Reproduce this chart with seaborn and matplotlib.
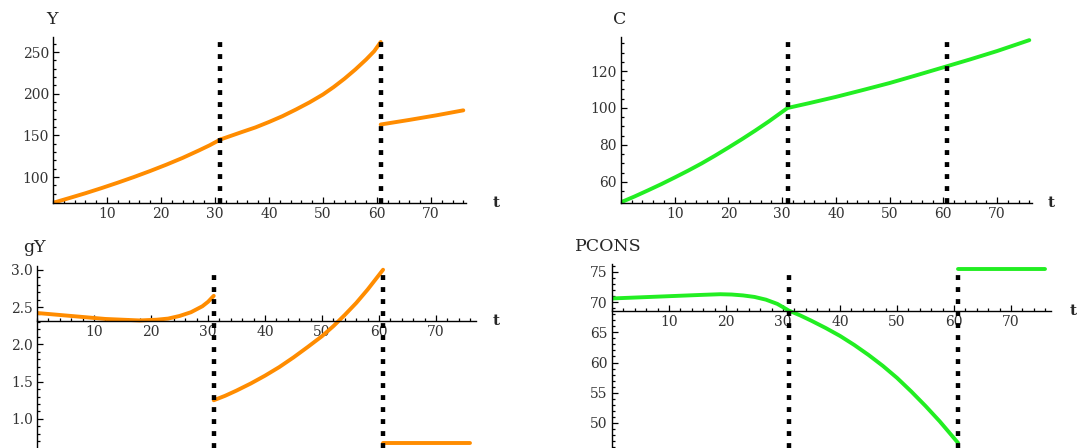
import matplotlib
matplotlib.use("Agg")
import matplotlib.pyplot as plt
import seaborn as sns
import pandas as pd
from matplotlib.ticker import MultipleLocator, FixedLocator, FormatStrFormatter

# regime switches (dotted vertical lines)
breaks = [31, 60.7]

# output Y
y_t = [0, 3, 6, 9, 12, 15, 18, 21, 24, 27, 29, 31,
       31, 33, 35, 37.5, 40, 42.5, 45, 47.5, 50, 52, 54, 56, 58, 59.5, 60.7,
       60.7, 66, 71, 76]
y_v = [69, 74.7, 80.5, 86.7, 93.2, 100, 107.2, 114.8, 122.9, 131.8, 138, 145,
       145, 149.5, 154, 159.5, 166, 173, 181, 189.5, 199, 208, 218, 229, 241, 251, 262,
       163, 168.5, 174, 180]
y_seg = [0] * 12 + [1] * 15 + [2] * 4

# consumption C
c_t = [0, 2.5, 5, 7.5, 10, 12.5, 15, 17.5, 20, 22.5, 25, 27.5, 31,
       35, 40, 45, 50, 55, 60.7, 65, 70, 76]
c_v = [49, 52.1, 55.4, 58.8, 62.4, 66.1, 70, 74.2, 78.6, 83.1, 87.8, 92.7, 100,
       102.6, 106, 109.7, 113.5, 117.7, 122.6, 126.3, 130.8, 136.7]
c_seg = [0] * 22

# growth rate gY
g_t = [0, 3, 6, 9, 12, 15, 18, 21, 23, 25, 27, 29, 30, 31,
       31, 33, 35, 37.5, 40, 42.5, 45, 47.5, 50, 52, 54, 56, 58, 60.7,
       60.7, 76]
g_v = [2.42, 2.40, 2.38, 2.36, 2.34, 2.33, 2.32, 2.33, 2.345, 2.38, 2.43, 2.51, 2.57, 2.65,
       1.25, 1.31, 1.38, 1.475, 1.58, 1.695, 1.825, 1.965, 2.11, 2.245, 2.395, 2.555, 2.735, 3.0,
       0.68, 0.68]
g_seg = [0] * 14 + [1] * 14 + [2] * 2

# PCONS
p_t = [0, 4, 8, 12, 16, 19, 21, 23, 25, 27, 29, 31, 33, 35, 37.5, 40, 42.5, 45,
       47.5, 50, 52.5, 55, 57.5, 60.7,
       60.7, 76]
p_v = [70.6, 70.75, 70.9, 71.05, 71.2, 71.3, 71.25, 71.1, 70.85, 70.4, 69.7, 68.6,
       67.8, 66.9, 65.7, 64.4, 62.9, 61.25, 59.45, 57.45, 55.2, 52.8, 50.25, 46.7,
       75.5, 75.5]
p_seg = [0] * 24 + [1] * 2

x_ticks = [10, 20, 30, 40, 50, 60, 70]

sns.set_style("white")
plt.rcParams["font.family"] = ["DejaVu Serif"]

orange = "#FF8C00"
green = "#22EE22"

W, H = 1083, 448
fig = plt.figure(figsize=(W / 100, H / 100), dpi=100)


def px_axes(left, right, top, bottom):
    return fig.add_axes([left / W, 1 - bottom / H, (right - left) / W, (bottom - top) / H])


def panel(ax, t, v, seg, color, xlim, ylim, ycross, yticks, yminor, tlab_x):
    df = pd.DataFrame({"t": t, "v": v, "seg": seg})
    sns.lineplot(data=df, x="t", y="v", units="seg", estimator=None, color=color,
                 lw=2.8, ax=ax, zorder=2)
    ax.set_xlim(*xlim)
    ax.set_ylim(*ylim)
    top = max(v)
    for b in breaks:
        ax.vlines(b, ylim[0], top, colors="black", lw=3.2,
                  linestyles=(0, (1.1, 1.6)), zorder=3, clip_on=False)
    for s in ["top", "right"]:
        ax.spines[s].set_visible(False)
    ax.spines["bottom"].set_position(("data", ycross))
    ax.spines["left"].set_position(("data", 0))
    for s in ["bottom", "left"]:
        ax.spines[s].set_color("black")
        ax.spines[s].set_linewidth(1.0)
    ax.xaxis.set_major_locator(FixedLocator(x_ticks))
    ax.xaxis.set_minor_locator(MultipleLocator(2))
    ax.yaxis.set_major_locator(FixedLocator(yticks))
    ax.yaxis.set_minor_locator(MultipleLocator(yminor))
    ax.tick_params(which="both", direction="in", bottom=True, left=True,
                   color="black", width=0.9, labelsize=10, labelcolor="#333333", pad=3)
    ax.tick_params(which="major", length=4.5)
    ax.tick_params(which="minor", length=2.5)
    ax.set_xlabel("")
    ax.set_ylabel("")
    ax.text(tlab_x, ycross, "t", fontsize=11, fontweight="bold", va="center",
            ha="left", clip_on=False)


ax1 = px_axes(53, 466, 37, 203)
panel(ax1, y_t, y_v, y_seg, orange, (0, 76.5), (68.8, 268), 68.8,
      [100, 150, 200, 250], 10, 81.5)

ax2 = px_axes(621, 1032, 37, 203)
panel(ax2, c_t, c_v, c_seg, green, (0, 76.5), (48.6, 138.4), 48.6,
      [60, 80, 100, 120], 5, 79.5)

ax3 = px_axes(37, 476, 266, 448)
panel(ax3, g_t, g_v, g_seg, orange, (0, 77), (0.61, 3.05), 2.315,
      [1.0, 1.5, 2.0, 2.5, 3.0], 0.1, 80)
ax3.yaxis.set_major_formatter(FormatStrFormatter("%.1f"))

ax4 = px_axes(612, 1051, 264, 448)
panel(ax4, p_t, p_v, p_seg, green, (0, 77), (45.86, 76.3), 68.54,
      [50, 55, 60, 65, 70, 75], 1, 80.3)

for label, x, y in [("Y", 52, 19), ("C", 620, 20), ("gY", 34, 247), ("PCONS", 608, 246)]:
    fig.text(x / W, 1 - y / H, label, fontsize=12.5, ha="center", va="center")

fig.savefig("out.png", dpi=100)
